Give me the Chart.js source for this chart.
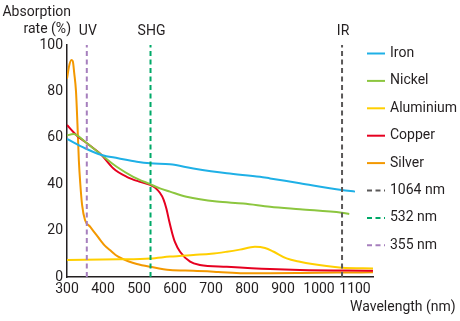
<!DOCTYPE html>
<html>
<head>
<meta charset="utf-8">
<script src="https://cdn.jsdelivr.net/npm/chart.js@4.4.1/dist/chart.umd.min.js"></script>
<style>
  html, body { margin: 0; padding: 0; background: #fff; }
  #absorb { display: block; }
</style>
</head>
<body>
<canvas id="absorb" width="460" height="321"></canvas>
<script>
// absorption rate (%) vs wavelength (nm), one pair of arrays per metal
const ironNm = [300, 350, 396, 442, 494, 531, 586, 651, 744, 836, 864, 947, 1063, 1100];
const ironVal = [59.5, 55.5, 52.6, 51.2, 49.7, 49, 48.6, 46.8, 44.7, 43.2, 42.5, 40.4, 37.5, 36.8];

const nickelNm = [300, 318, 350, 373, 396, 438, 484, 531, 558, 586, 632, 716, 790, 864, 947, 1063, 1084];
const nickelVal = [61, 61.6, 58.3, 55.5, 52.6, 47.5, 43.2, 40, 38.2, 36.8, 34.6, 32.5, 31.7, 30.3, 29.2, 27.7, 27.2];

const aluNm = [300, 447, 531, 586, 651, 700, 744, 780, 822, 850, 873, 910, 947, 1021, 1063, 1150];
const aluVal = [7.3, 7.6, 8, 8.8, 9.5, 10, 10.9, 11.8, 13, 12.5, 11, 8, 6.6, 4.7, 4, 3.7];

const copperNm = [300, 327, 350, 369, 396, 429, 466, 503, 531, 545, 558, 568, 576, 584, 592, 600, 614, 642, 669, 744, 864, 947, 1150];
const copperVal = [65.5, 61, 58.3, 56, 52.6, 46.8, 43.2, 41, 39.7, 38.5, 36.3, 33.5, 29.5, 24, 19, 15, 10.9, 6.6, 5.2, 4.4, 3.4, 3, 2.7];

const silverNm = [300, 306, 312, 316, 320, 325, 329, 333, 337, 342, 350, 364, 380, 392, 405, 419, 435, 452, 470, 494, 531, 586, 651, 720, 790, 864, 950, 1050, 1150];
const silverVal = [85.5, 91, 93.5, 93, 88, 80, 66, 50, 40, 31, 24.6, 21.7, 18.5, 16, 13.5, 11.6, 9.5, 8, 6.8, 5.6, 4.4, 3, 2.7, 2.2, 1.6, 1.6, 1.7, 1.9, 2];

// laser wavelengths marked with vertical dashed lines
const laserNm = [1064, 532, 355];
const laserTags = ["IR", "SHG", "UV"];

const xTicks = [300, 400, 500, 600, 700, 800, 900, 1000, 1100];
const yTicks = [0, 20, 40, 60, 80, 100];

const ink = "#231f20";
const font = { family: "Roboto, 'Liberation Sans', sans-serif", size: 14 };

const pairs = (xs, ys) => xs.map((x, i) => ({ x, y: ys[i] }));

const metal = (label, xs, ys, color) => ({
  label,
  data: pairs(xs, ys),
  borderColor: color,
  borderWidth: 2,
  pointRadius: 0,
  cubicInterpolationMode: "monotone",
  fill: false,
  order: 1,
});

const laser = (nm, color) => ({
  label: `${nm} nm`,
  data: [{ x: nm, y: yTicks[0] }, { x: nm, y: yTicks[yTicks.length - 1] }],
  borderColor: color,
  borderWidth: 2,
  borderDash: [5, 3.5],
  pointRadius: 0,
  fill: false,
  order: 0,
});

// legend column on the right, built from the datasets
const sideLegend = {
  id: "sideLegend",
  afterDraw(chart) {
    const { ctx } = chart;
    ctx.save();
    ctx.font = `${font.size}px ${font.family}`;
    ctx.textBaseline = "middle";
    ctx.textAlign = "left";
    chart.data.datasets.forEach((ds, i) => {
      const y = 53.5 + i * 27.4;
      ctx.strokeStyle = ds.borderColor;
      ctx.lineWidth = 2;
      ctx.setLineDash(ds.borderDash || []);
      ctx.beginPath();
      ctx.moveTo(367, y);
      ctx.lineTo(385, y);
      ctx.stroke();
      ctx.fillStyle = ink;
      ctx.fillText(ds.label, 390, y);
    });
    ctx.restore();
  },
};

// axis titles and the tags above each laser line
const captions = {
  id: "captions",
  afterDraw(chart) {
    const { ctx } = chart;
    const xs = chart.scales.x;
    ctx.save();
    ctx.font = `${font.size}px ${font.family}`;
    ctx.fillStyle = ink;
    ctx.textBaseline = "middle";

    ctx.textAlign = "right";
    ctx.fillText("Absorption", 71, 12);
    ctx.fillText("rate (%)", 71, 29);

    ctx.textAlign = "left";
    ctx.fillText("Wavelength (nm)", 350, 307);

    ctx.textAlign = "center";
    laserNm.forEach((nm, i) => {
      ctx.fillText(laserTags[i], xs.getPixelForValue(nm) + 1, 31);
    });
    ctx.restore();
  },
};

new Chart(document.getElementById("absorb"), {
  type: "line",
  data: {
    datasets: [
      metal("Iron", ironNm, ironVal, "#1fb0e6"),
      metal("Nickel", nickelNm, nickelVal, "#8cc63f"),
      metal("Aluminium", aluNm, aluVal, "#ffcf00"),
      metal("Copper", copperNm, copperVal, "#e60020"),
      metal("Silver", silverNm, silverVal, "#f39800"),
      laser(laserNm[0], "#5a5858"),
      laser(laserNm[1], "#00a968"),
      laser(laserNm[2], "#a67fbd"),
    ],
  },
  options: {
    responsive: false,
    animation: false,
    layout: { padding: { top: 45, right: 87, bottom: 0, left: 0 } },
    plugins: {
      legend: { display: false },
      tooltip: { enabled: false },
    },
    scales: {
      x: {
        type: "linear",
        min: 300,
        max: 1150,
        grid: { display: false, drawTicks: false },
        border: { color: ink, width: 1.5 },
        afterBuildTicks: (scale) => {
          scale.ticks = xTicks.map((value) => ({ value }));
        },
        afterFit: (scale) => {
          scale.height = 44;
        },
        ticks: {
          font,
          color: ink,
          padding: 4,
          maxRotation: 0,
          autoSkip: false,
          callback: (value) => String(value),
        },
      },
      y: {
        min: 0,
        max: 100,
        grid: { display: false, drawTicks: false },
        border: { color: ink, width: 1.5 },
        afterBuildTicks: (scale) => {
          scale.ticks = yTicks.map((value) => ({ value }));
        },
        afterFit: (scale) => {
          scale.width = 67;
        },
        ticks: { font, color: ink, padding: 4, callback: (value) => String(value) },
      },
    },
  },
  plugins: [sideLegend, captions],
});
</script>
</body>
</html>
